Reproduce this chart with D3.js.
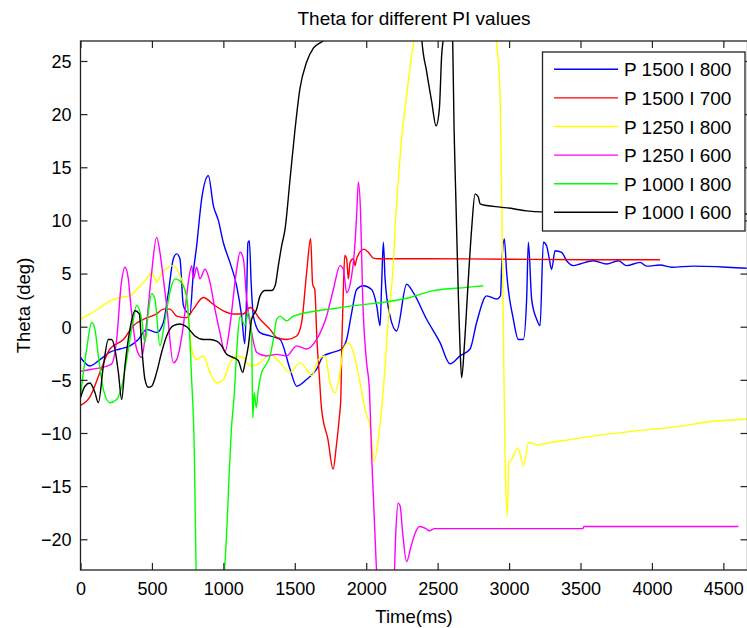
<!DOCTYPE html>
<html><head><meta charset="utf-8">
<script src="https://cdn.jsdelivr.net/npm/d3@7"></script>
<style>
html,body{margin:0;padding:0;background:#fff;}
text{font-family:"Liberation Sans",Arial,Helvetica,sans-serif;fill:#000;}
</style></head>
<body>
<svg id="chart" width="747" height="628"></svg>
<script>
// ---------------- data ----------------
const seriesNames = ["P 1500 I 800","P 1500 I 700","P 1250 I 800","P 1250 I 600","P 1000 I 800","P 1000 I 600"];
const seriesColors = ["#0000ff","#ff0000","#ffff00","#ff00ff","#00ff00","#000000"];
const xTicks = [0,500,1000,1500,2000,2500,3000,3500,4000,4500];
const yTicks = [-20,-15,-10,-5,0,5,10,15,20,25];
const titleText = "Theta for different PI values";
const xLabel = "Time(ms)";
const yLabel = "Theta (deg)";

const tBlue = [0,66,136,206,276,346,405,463,533,580,615,650,673,696,720,743,766,790,813,848,895,930,965,1000,1046,1093,1128,1150,1163,1172,1182,1195,1210,1257,1327,1397,1467,1513,1584,1653,1700,1770,1828,1863,1898,1933,1980,2038,2073,2097,2108,2120,2132,2167,2213,2283,2330,2423,2517,2587,2657,2727,2773,2843,2913,2940,2948,2967,2983,3030,3065,3100,3123,3135,3158,3193,3217,3240,3263,3280,3298,3322,3368,3403,3450,3497,3590,3683,3765,3823,3917,3963,4057,4138,4290,4453,4523,4663];
const thBlue = [-2.9,-3.7,-3.1,-2.4,-2.1,-1.8,-1.2,-0.25,-0.55,0.4,3.2,6.4,6.85,6.4,2.0,1.4,1.2,5.1,7.6,12.0,14.2,11.4,10.0,7.9,6.05,3.85,1.0,-1.6,3.0,7.9,8.1,4.0,1.0,-0.55,-0.87,-1.2,-4.0,-5.6,-4.95,-4.0,-2.75,-2.4,-2.1,-1.2,1.3,3.5,3.85,3.5,2.0,0.1,4.0,7.95,4.5,1.0,-0.4,4.0,3.2,0.7,-1.5,-3.5,-2.75,-2.1,0.4,2.9,2.6,2.9,5.6,8.25,5.1,0.7,-1.2,-1.2,2.6,7.95,2.6,0.7,0.1,7.95,7.6,6.5,5.4,7.15,7.0,6.2,5.75,5.9,6.2,5.9,6.2,5.75,6.05,5.7,5.8,5.6,5.7,5.65,5.6,5.5];

const tRed = [0,66,136,206,230,300,370,440,533,580,626,673,743,790,860,930,1000,1070,1140,1187,1257,1327,1373,1443,1513,1548,1583,1611,1625,1640,1655,1670,1688,1732,1768,1791,1812,1822,1830,1840,1850,1863,1875,1887,1910,1922,1933,1983,2015,2050,2085,2300,3000,3600,4057];
const thRed = [-7.4,-6.6,-4.3,-2.1,-1.8,-1.2,0.1,0.7,1.2,1.65,1.65,1.0,0.85,1.65,2.75,2.1,1.5,1.2,1.2,1.8,0.7,-0.25,-1.0,-1.2,-0.87,0.4,5.1,8.3,4.0,3.5,-1.2,-4.3,-7.8,-10.6,-13.4,-11.2,-8.5,-6.8,-1.2,3.5,6.7,6.4,4.5,6.05,6.4,5.75,6.4,7.3,7.0,6.45,6.4,6.4,6.35,6.3,6.3];

const tYellow = [0,66,136,206,276,346,393,463,498,533,568,615,650,696,743,778,813,860,906,953,1000,1046,1093,1140,1187,1257,1327,1397,1467,1536,1583,1618,1665,1712,1747,1782,1817,1840,1875,1910,1957,1992,2031,2055,2090,2120,2150,2190,2202,2225,2248,2283,2318,2340,2350,2900,2913,2937,2948,2960,2973,2988,2997,3018,3062,3101,3137,3197,3286,3437,3586,3886,4185,4424,4670];
const thYellow = [0.7,1.2,1.8,2.4,2.75,2.9,3.5,4.5,5.1,4.2,5.0,5.6,5.75,4.8,2.6,-2.1,-3.1,-2.75,-4.3,-5.3,-5.0,-3.4,-2.75,-2.9,-3.7,-3.4,-2.6,-3.4,-4.3,-3.4,-4.0,-4.6,-3.1,-2.75,-5.3,-6.2,-4.3,-2.1,-1.5,-2.4,-5.3,-7.8,-9.7,-12.7,-10.0,-5.9,-0.2,6.0,9.2,13.9,17.7,21.8,25.5,27.5,29,29,26.8,21.8,12.3,-0.2,-13.1,-17.8,-12.8,-12.5,-11.4,-13.1,-10.9,-11.1,-10.9,-10.6,-10.3,-9.8,-9.4,-8.9,-8.7];

const tMagenta = [0,80,160,218,253,285,311,335,346,393,428,463,498,533,556,580,603,650,673,720,755,778,790,813,836,871,906,941,976,1011,1046,1093,1117,1140,1163,1198,1233,1303,1373,1443,1513,1583,1653,1723,1770,1817,1840,1863,1898,1915,1933,1945,1961,1975,2003,2022,2040,2055,2075,2090,2190,2208,2223,2238,2253,2283,2313,2343,2373,2418,2442,2478,2985,3515,3525,4605];
const thMagenta = [-4.2,-4.0,-3.8,-3.5,-1.2,4.0,5.6,4.5,2.9,-2.1,-2.9,0.4,5.1,8.4,7.0,4.5,2.0,-3.4,-3.1,0.1,4.2,5.75,4.5,5.6,4.5,5.4,4.2,1.65,-0.55,-2.4,0.1,5.4,7.0,6.4,2.6,-0.55,-2.4,-2.75,-2.6,-2.75,-1.8,-2.1,-1.2,1.0,3.5,5.75,5.4,3.2,4.8,6.7,10.5,13.6,10.5,2.9,-3.4,-5.9,-12.8,-17.5,-23.5,-25,-25,-19.1,-16.6,-16.9,-19.1,-22.1,-20.7,-19.4,-18.8,-19.0,-19.2,-19.0,-19.0,-19.0,-18.8,-18.8];

const tGreen = [0,43,78,101,125,160,206,253,300,335,370,393,428,451,475,498,521,556,590,630,661,696,740,765,778,788,797,803,811,820,995,1005,1026,1041,1056,1077,1086,1100,1117,1152,1175,1198,1206,1216,1230,1245,1268,1292,1327,1350,1373,1397,1443,1490,1817,2307,2470,2703,2820];
const thGreen = [-6.5,-2.1,0.4,-0.25,-2.75,-5.9,-7.15,-6.85,-4.95,-2.1,0.7,2.0,0.7,-1.5,1.35,3.1,2.6,-1.8,0.5,3.5,4.5,4.3,3.0,-1.0,-5.0,-7.8,-11.9,-17.5,-23.5,-25,-25,-23.5,-18.5,-13.8,-9.7,-6.2,-4.0,-1.0,1.0,0.1,1.35,-0.87,-8.6,-6.2,-7.6,-5.9,-4.3,-3.7,-2.75,-1.2,0.7,1.0,0.55,1.0,1.8,2.75,3.4,3.7,3.85];

const tBlack = [0,31,66,101,125,160,195,218,241,265,288,311,346,381,412,428,451,475,498,533,568,603,650,696,743,801,860,906,953,988,1023,1070,1105,1135,1152,1175,1198,1233,1257,1292,1338,1362,1385,1408,1432,1467,1502,1536,1583,1630,1688,1747,1760,2380,2388,2423,2458,2489,2512,2528,2540,2550,2600,2605,2615,2627,2645,2657,2668,2687,2715,2738,2762,2785,2797,2843,2937,3030,3123,3228,4670];
const thBlack = [-6.7,-5.6,-5.3,-6.2,-7.15,-3.7,-1.2,-1.2,-2.1,-4.3,-6.85,-3.7,-0.25,1.5,1.2,-1.8,-4.95,-5.7,-5.6,-4.3,-2.4,-0.87,0.1,0.25,0.0,-0.87,-1.2,-1.2,-1.35,-1.8,-2.6,-2.9,-3.2,-4.3,-3.4,-1.8,0.7,1.65,2.9,3.4,3.4,3.85,5.75,7.6,9.2,13.9,18.6,22.4,24.9,26.2,26.8,27.3,29,29,27.2,24.0,21.2,18.9,20.5,25.5,27.2,29,29,27.2,18.6,12.3,2.9,-2.1,-4.8,-1.8,4.5,9.2,12.5,12.2,11.55,11.4,11.25,11.1,10.9,10.8,10.6];

const seriesT = [tBlue,tRed,tYellow,tMagenta,tGreen,tBlack];
const seriesTheta = [thBlue,thRed,thYellow,thMagenta,thGreen,thBlack];

// ---------------- layout ----------------
const W = 747, H = 628;
const L = 80.5, R = 747.5, T = 41, B = 570;
const svg = d3.select("#chart");

const x = d3.scaleLinear().domain([0, 4669]).range([L, R]);
const y = d3.scaleLinear().domain([-22.89, 26.88]).range([B, T]);

svg.append("defs").append("clipPath").attr("id","clip")
  .append("rect").attr("x",L).attr("y",T).attr("width",R-L).attr("height",B-T);

svg.append("rect").attr("x",L).attr("y",T).attr("width",R-L).attr("height",B-T).attr("fill","#fff");

const line = d3.line().x(d=>x(d[0])).y(d=>y(d[1])).curve(d3.curveMonotoneX);
const gLines = svg.append("g").attr("clip-path","url(#clip)");
seriesNames.forEach((n,i)=>{
  const pts = seriesT[i].map((t,j)=>[t, seriesTheta[i][j]]);
  gLines.append("path").datum(pts).attr("d",line)
    .attr("fill","none").attr("stroke",seriesColors[i]).attr("stroke-width",1.4)
    .attr("stroke-linejoin","round");
});

// axes (MATLAB box with inward ticks)
const tickLen = 7;
const axStroke = "#222";
const fontTick = 18;
svg.append("g").attr("transform",`translate(0,${B})`)
  .call(d3.axisBottom(x).tickValues(xTicks).tickSizeInner(-tickLen).tickSizeOuter(0).tickPadding(0).tickFormat(d3.format("d")))
  .call(g=>{g.select(".domain").remove();
    g.selectAll(".tick line").attr("stroke",axStroke).attr("stroke-width",1.2);
    g.selectAll(".tick text").attr("y",25).attr("dy",0).style("font-size",fontTick+"px").attr("fill","#000");});
svg.append("g").attr("transform",`translate(0,${T})`)
  .call(d3.axisTop(x).tickValues(xTicks).tickSizeInner(-tickLen).tickSizeOuter(0).tickFormat(""))
  .call(g=>{g.select(".domain").remove(); g.selectAll(".tick line").attr("stroke",axStroke).attr("stroke-width",1.2);});
svg.append("g").attr("transform",`translate(${L},0)`)
  .call(d3.axisLeft(y).tickValues(yTicks).tickSizeInner(-tickLen).tickSizeOuter(0).tickPadding(0).tickFormat(d3.format("d")))
  .call(g=>{g.select(".domain").remove();
    g.selectAll(".tick line").attr("stroke",axStroke).attr("stroke-width",1.2);
    g.selectAll(".tick text").attr("x",-9).attr("dy","0.35em").style("font-size",fontTick+"px").attr("fill","#000");});
svg.append("g").attr("transform",`translate(${R},0)`)
  .call(d3.axisRight(y).tickValues(yTicks).tickSizeInner(-tickLen).tickSizeOuter(0).tickFormat(""))
  .call(g=>{g.select(".domain").remove(); g.selectAll(".tick line").attr("stroke",axStroke).attr("stroke-width",1.2);});
svg.append("rect").attr("x",L).attr("y",T).attr("width",R-L).attr("height",B-T)
  .attr("fill","none").attr("stroke",axStroke).attr("stroke-width",1.3);

// titles
svg.append("text").attr("x",(L+R)/2).attr("y",25).attr("text-anchor","middle")
  .style("font-size","19px").text(titleText);
svg.append("text").attr("x",(L+R)/2).attr("y",623).attr("text-anchor","middle")
  .style("font-size","18.5px").text(xLabel);
svg.append("text").attr("transform",`translate(30,${(T+B)/2}) rotate(-90)`).attr("text-anchor","middle")
  .style("font-size","18.5px").text(yLabel);

// legend
const lgX = 542.5, lgY = 52, lgW = 202.5, lgH = 179, rowH = 28.6, row0 = 69.3;
const lg = svg.append("g");
lg.append("rect").attr("x",lgX).attr("y",lgY).attr("width",lgW).attr("height",lgH)
  .attr("fill","#fff").attr("stroke",axStroke).attr("stroke-width",1.3);
seriesNames.forEach((n,i)=>{
  const ry = row0 + i*rowH;
  lg.append("line").attr("x1",554).attr("x2",618).attr("y1",ry).attr("y2",ry)
    .attr("stroke",seriesColors[i]).attr("stroke-width",1.4);
  lg.append("text").attr("x",624).attr("y",ry+7).style("font-size","19px").text(n);
});
</script>
</body></html>
